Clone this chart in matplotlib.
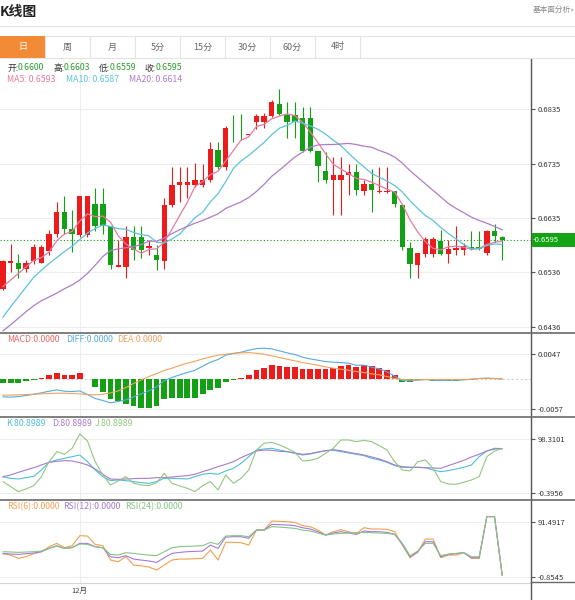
import numpy as np
import matplotlib.pyplot as plt
from matplotlib.patches import Rectangle
from matplotlib.lines import Line2D

plt.rcParams['font.family'] = ['Noto Sans CJK SC', 'DejaVu Sans']

# ---- data (daily candles, oldest first) ----
opens = [0.6506, 0.6553, 0.6554, 0.6542, 0.6556, 0.6554, 0.6575, 0.6606, 0.6647, 0.6615,
         0.6604, 0.6604, 0.6662, 0.6662, 0.6620, 0.6546, 0.6546, 0.6601, 0.6601, 0.6581,
         0.6567, 0.6557, 0.6659, 0.6696, 0.6696, 0.6695, 0.6695, 0.6705, 0.6760, 0.6729,
         0.6801, 0.6801, 0.6787, 0.6811, 0.6811, 0.6823, 0.6845, 0.6824, 0.6824, 0.6818,
         0.6818, 0.6758, 0.6722, 0.6705, 0.6705, 0.6714, 0.6719, 0.6685, 0.6698, 0.6683,
         0.6683, 0.6684, 0.6659, 0.6581, 0.6550, 0.6569, 0.6569, 0.6593, 0.6569, 0.6577,
         0.6576, 0.6583, 0.6583, 0.6571, 0.6611, 0.6600]
highs = [0.6559, 0.6587, 0.6569, 0.6559, 0.6587, 0.6586, 0.6614, 0.6665, 0.6675, 0.6650,
         0.6675, 0.6676, 0.6690, 0.6690, 0.6620, 0.6595, 0.6620, 0.6620, 0.6620, 0.6595,
         0.6586, 0.6672, 0.6728, 0.6728, 0.6728, 0.6736, 0.6734, 0.6774, 0.6774, 0.6803,
         0.6824, 0.6825, 0.6790, 0.6825, 0.6827, 0.6851, 0.6872, 0.6847, 0.6847, 0.6839,
         0.6839, 0.6758, 0.6757, 0.6748, 0.6748, 0.6734, 0.6734, 0.6705, 0.6726, 0.6729,
         0.6729, 0.6685, 0.6661, 0.6592, 0.6572, 0.6601, 0.6601, 0.6614, 0.6595, 0.6620,
         0.6589, 0.6611, 0.6611, 0.6614, 0.6624, 0.6603]
lows = [0.6504, 0.6537, 0.6525, 0.6537, 0.6551, 0.6553, 0.6568, 0.6601, 0.6607, 0.6574,
        0.6601, 0.6601, 0.6611, 0.6607, 0.6543, 0.6545, 0.6525, 0.6559, 0.6562, 0.6568,
        0.6540, 0.6543, 0.6656, 0.6665, 0.6672, 0.6693, 0.6693, 0.6702, 0.6726, 0.6723,
        0.6775, 0.6778, 0.6787, 0.6798, 0.6800, 0.6821, 0.6824, 0.6781, 0.6781, 0.6757,
        0.6757, 0.6702, 0.6699, 0.6641, 0.6641, 0.6678, 0.6678, 0.6678, 0.6647, 0.6681,
        0.6681, 0.6656, 0.6577, 0.6525, 0.6525, 0.6565, 0.6565, 0.6567, 0.6553, 0.6568,
        0.6568, 0.6577, 0.6577, 0.6568, 0.6592, 0.6559]
closes = [0.6556, 0.6556, 0.6542, 0.6554, 0.6582, 0.6582, 0.6606, 0.6647, 0.6615, 0.6606,
          0.6675, 0.6675, 0.6620, 0.6620, 0.6550, 0.6549, 0.6601, 0.6577, 0.6577, 0.6584,
          0.6559, 0.6659, 0.6696, 0.6702, 0.6702, 0.6705, 0.6705, 0.6762, 0.6729, 0.6801,
          0.6800, 0.6800, 0.6790, 0.6823, 0.6823, 0.6847, 0.6826, 0.6811, 0.6811, 0.6759,
          0.6759, 0.6731, 0.6705, 0.6714, 0.6714, 0.6719, 0.6687, 0.6698, 0.6687, 0.6685,
          0.6685, 0.6661, 0.6582, 0.6551, 0.6572, 0.6597, 0.6597, 0.6569, 0.6579, 0.6580,
          0.6584, 0.6579, 0.6579, 0.6611, 0.6603, 0.6595]

ma5 = [0.6510, 0.6522, 0.6534, 0.6546, 0.6558, 0.6563, 0.6573, 0.6594, 0.6606, 0.6611,
       0.6630, 0.6643, 0.6638, 0.6639, 0.6628, 0.6603, 0.6588, 0.6579, 0.6571, 0.6578,
       0.6579, 0.6591, 0.6615, 0.6640, 0.6664, 0.6693, 0.6702, 0.6715, 0.6721, 0.6740,
       0.6759, 0.6778, 0.6784, 0.6803, 0.6807, 0.6817, 0.6822, 0.6826, 0.6823, 0.6811,
       0.6793, 0.6774, 0.6753, 0.6734, 0.6725, 0.6717, 0.6708, 0.6706, 0.6701, 0.6695,
       0.6688, 0.6683, 0.6660, 0.6632, 0.6610, 0.6592, 0.6580, 0.6577, 0.6583, 0.6584,
       0.6582, 0.6578, 0.6580, 0.6587, 0.6591, 0.6593]
ma10 = [0.6454, 0.6473, 0.6491, 0.6509, 0.6527, 0.6540, 0.6552, 0.6563, 0.6574, 0.6584,
        0.6596, 0.6608, 0.6616, 0.6623, 0.6620, 0.6616, 0.6615, 0.6609, 0.6605, 0.6603,
        0.6591, 0.6590, 0.6597, 0.6606, 0.6621, 0.6636, 0.6646, 0.6665, 0.6680, 0.6702,
        0.6726, 0.6740, 0.6750, 0.6762, 0.6774, 0.6788, 0.6800, 0.6805, 0.6813, 0.6809,
        0.6804, 0.6798, 0.6789, 0.6778, 0.6768, 0.6754, 0.6741, 0.6729, 0.6717, 0.6710,
        0.6703, 0.6695, 0.6683, 0.6667, 0.6653, 0.6640, 0.6631, 0.6618, 0.6607, 0.6597,
        0.6587, 0.6579, 0.6579, 0.6585, 0.6588, 0.6587]
ma20 = [0.6429, 0.6440, 0.6452, 0.6464, 0.6475, 0.6484, 0.6491, 0.6498, 0.6506, 0.6513,
        0.6522, 0.6534, 0.6549, 0.6565, 0.6576, 0.6579, 0.6581, 0.6583, 0.6587, 0.6593,
        0.6593, 0.6599, 0.6607, 0.6614, 0.6620, 0.6626, 0.6631, 0.6637, 0.6643, 0.6653,
        0.6659, 0.6665, 0.6673, 0.6684, 0.6697, 0.6712, 0.6723, 0.6735, 0.6747, 0.6756,
        0.6765, 0.6769, 0.6770, 0.6770, 0.6771, 0.6772, 0.6770, 0.6767, 0.6765, 0.6759,
        0.6754, 0.6747, 0.6736, 0.6722, 0.6710, 0.6698, 0.6686, 0.6674, 0.6662, 0.6653,
        0.6645, 0.6637, 0.6631, 0.6626, 0.6620, 0.6614]

macd_hist = [-0.00063, -0.00076, -0.00063, -0.00038, -0.00006, 0.00032, 0.00082, 0.00126, 0.00076, 0.00076,
             0.00113, 0.0, -0.00139, -0.00239, -0.00378, -0.00410, -0.00473, -0.00504, -0.00536, -0.00548,
             -0.00504, -0.00378, -0.00359, -0.00359, -0.00359, -0.00347, -0.00284, -0.00202, -0.00170, -0.00044,
             -0.00019, 0.00019, 0.00082, 0.00170, 0.00221, 0.00265, 0.00252, 0.00239, 0.00233, 0.00202,
             0.00189, 0.00189, 0.00202, 0.00221, 0.00252, 0.00265, 0.00239, 0.00271, 0.00252, 0.00221,
             0.00176, 0.00082, -0.00044, -0.00044, -0.00019, -0.00006, -0.00032, -0.00038, -0.00032, -0.00032,
             -0.00013, -0.00006, 0.0, 0.00003, 0.00003, 0.0]
diff = [-0.00334, -0.00340, -0.00328, -0.00309, -0.00284, -0.00258, -0.00227, -0.00202, -0.00227, -0.00233,
        -0.00221, -0.00290, -0.00365, -0.00403, -0.00447, -0.00422, -0.00391, -0.00334, -0.00277, -0.00221,
        -0.00145, -0.00025, 0.00032, 0.00082, 0.00126, 0.00170, 0.00246, 0.00321, 0.00372, 0.00454,
        0.00485, 0.00510, 0.00548, 0.00580, 0.00586, 0.00573, 0.00536, 0.00498, 0.00466, 0.00416,
        0.00384, 0.00359, 0.00334, 0.00321, 0.00315, 0.00302, 0.00265, 0.00265, 0.00227, 0.00195,
        0.00139, 0.00057, -0.00025, -0.00032, -0.00019, -0.00006, -0.00019, -0.00025, -0.00019, -0.00019,
        -0.00013, 0.0, 0.00013, 0.00019, 0.00013, 0.00006]
dea = [-0.00302, -0.00302, -0.00296, -0.00290, -0.00284, -0.00277, -0.00271, -0.00265, -0.00265, -0.00271,
       -0.00277, -0.00290, -0.00296, -0.00284, -0.00258, -0.00221, -0.00158, -0.00082, -0.00013, 0.00050,
       0.00107, 0.00164, 0.00208, 0.00258, 0.00302, 0.00340, 0.00384, 0.00422, 0.00454, 0.00473,
       0.00491, 0.00498, 0.00504, 0.00491, 0.00473, 0.00441, 0.00410, 0.00378, 0.00347, 0.00315,
       0.00290, 0.00265, 0.00233, 0.00208, 0.00189, 0.00170, 0.00145, 0.00126, 0.00101, 0.00082,
       0.00050, 0.00013, -0.00006, -0.00013, -0.00013, -0.00006, -0.00006, -0.00006, -0.00006, -0.00006,
       -0.00006, 0.0, 0.00013, 0.00019, 0.00013, 0.00006]

k_line = [29.3, 26.8, 25.6, 28.1, 30.5, 42.0, 55.9, 60.2, 63.2, 66.2,
          69.2, 57.1, 42.0, 29.9, 22.6, 23.8, 22.6, 20.8, 19.0, 17.8,
          20.8, 26.8, 26.8, 26.2, 25.6, 29.9, 34.1, 35.9, 34.1, 40.2,
          45.0, 54.1, 66.2, 78.3, 80.1, 81.4, 78.3, 75.3, 72.3, 69.2,
          71.1, 74.1, 77.1, 77.7, 75.3, 72.9, 70.5, 68.0, 63.2, 60.2,
          55.9, 49.9, 46.8, 46.8, 46.8, 46.2, 42.0, 39.0, 40.8, 43.8,
          46.8, 51.1, 66.2, 76.5, 81.4, 80.8989]
d_line = [29.9, 32.9, 37.7, 42.0, 46.2, 51.1, 55.9, 57.7, 59.0, 58.3,
          55.3, 51.1, 43.8, 34.1, 25.6, 25.0, 25.6, 26.2, 26.8, 26.8,
          28.1, 28.1, 29.3, 30.5, 31.7, 34.1, 39.0, 43.2, 48.0, 52.3,
          57.1, 64.4, 70.5, 76.5, 78.3, 77.7, 75.9, 75.3, 72.9, 70.5,
          71.7, 74.7, 77.1, 78.9, 77.1, 74.1, 71.7, 69.2, 65.6, 62.0,
          57.1, 51.1, 48.0, 46.8, 46.8, 46.2, 45.6, 45.0, 49.9, 54.7,
          59.6, 65.6, 70.5, 76.5, 80.1, 80.8989]
j_line = [20.8, 11.7, 2.6, 7.5, 13.5, 29.9, 57.1, 75.3, 70.5, 81.4,
          107.4, 94.7, 57.1, 32.9, 14.7, 22.0, 29.9, 17.8, 14.7, 13.5,
          19.0, 35.9, 17.8, 12.9, 8.7, 2.6, 13.5, 20.8, 5.7, 32.9,
          17.8, 26.8, 42.0, 78.3, 90.4, 92.3, 87.4, 81.4, 74.1, 58.3,
          59.6, 63.2, 72.3, 81.4, 96.5, 96.5, 93.5, 95.9, 93.5, 86.2,
          78.3, 57.1, 42.0, 40.2, 57.1, 60.2, 45.0, 20.8, 16.6, 16.0,
          19.6, 23.8, 29.9, 66.2, 76.5, 80.8989]

rsi6 = [37.8, 35.5, 29.9, 32.7, 37.8, 41.1, 49.5, 55.1, 47.8, 51.2,
        68.0, 67.4, 53.4, 51.2, 27.1, 24.3, 32.7, 18.7, 17.6, 15.4,
        10.3, 18.7, 27.1, 28.8, 28.8, 29.4, 29.9, 43.9, 27.1, 56.8,
        56.8, 56.2, 52.3, 77.5, 77.5, 92.6, 92.0, 91.5, 90.4, 84.8,
        83.1, 77.5, 69.1, 74.7, 78.1, 74.7, 71.3, 81.4, 79.2, 79.2,
        78.6, 74.7, 52.3, 31.0, 40.0, 62.4, 62.4, 31.0, 35.5, 35.5,
        39.5, 29.9, 29.9, 100.0, 100.0, 1.9]
rsi12 = [38.3, 37.2, 36.6, 37.8, 38.9, 41.1, 46.7, 50.6, 46.7, 47.8,
         55.1, 55.1, 49.5, 47.8, 32.7, 31.0, 34.4, 28.8, 27.1, 25.5,
         23.2, 31.0, 38.3, 40.0, 41.1, 41.7, 42.2, 52.3, 46.7, 65.7,
         66.3, 66.3, 63.5, 77.5, 77.5, 87.0, 86.5, 85.9, 84.8, 81.4,
         79.2, 74.7, 69.1, 72.5, 74.7, 72.5, 70.2, 75.8, 74.7, 74.7,
         73.6, 70.2, 53.4, 32.7, 41.1, 57.9, 57.9, 32.7, 36.6, 37.8,
         39.5, 31.0, 31.0, 100.0, 100.0, 1.9]
rsi24 = [41.1, 40.6, 40.0, 40.6, 41.1, 42.2, 46.7, 51.2, 46.7, 48.4,
         54.0, 53.4, 49.5, 47.8, 36.6, 35.5, 39.5, 38.3, 36.6, 35.5,
         34.4, 41.1, 47.8, 49.5, 50.1, 50.6, 51.2, 56.8, 53.4, 67.4,
         68.0, 68.0, 66.3, 77.5, 77.5, 83.1, 82.5, 81.4, 80.3, 77.5,
         75.8, 72.5, 69.1, 70.8, 71.9, 72.5, 73.0, 73.6, 73.0, 72.5,
         71.9, 70.2, 55.1, 34.4, 42.2, 55.1, 55.1, 34.4, 37.2, 38.3,
         39.5, 32.7, 32.7, 100.0, 100.0, 1.9]

price_ticks = [0.6436, 0.6536, 0.6635, 0.6735, 0.6835]
macd_ticks = [-0.0057, 0.0047]
kdj_ticks = [-0.3956, 98.3101]
rsi_ticks = [-0.8545, 91.4917]
month_pos = 10
month_label = '12月'
tabs = ['日', '周', '月', '5分', '15分', '30分', '60分', '4时']

# ---- colours ----
RED = '#ec1c1c'
GREEN = '#14a014'
C_MA5 = '#e57ba3'
C_MA10 = '#5cc3dc'
C_MA20 = '#b07cc8'
C_DIFF = '#58a9e0'
C_DEA = '#f0a35e'
C_MACD = '#e26a6a'
C_K = '#4fbfd8'
C_D = '#a77cc9'
C_J = '#93c77f'
C_R6 = '#f0a050'
C_R12 = '#a47ad6'
C_R24 = '#86c486'
GRID = '#ededed'
AXC = '#555555'

W, H = 575, 600
fig = plt.figure(figsize=(W / 100, H / 100), dpi=100)


def fx(x):
    return x / W


def fy(y):
    return 1 - y / H


def panel(top, bottom):
    return fig.add_axes([0, fy(bottom), fx(531), (bottom - top) / H])


n = len(closes)
x = np.arange(n)
XLIM = (-0.39, 68.75)

ax = panel(59, 333)
ax_macd = panel(333, 417)
ax_kdj = panel(417, 500)
ax_rsi = panel(500, 583)

for a, ticks in [(ax, price_ticks), (ax_macd, macd_ticks),
                 (ax_kdj, kdj_ticks), (ax_rsi, rsi_ticks)]:
    a.set_xlim(*XLIM)
    for s in ['top', 'left', 'bottom']:
        a.spines[s].set_visible(False)
    a.spines['right'].set_color(AXC)
    a.spines['right'].set_linewidth(1.0)
    a.yaxis.tick_right()
    a.set_yticks(ticks)
    a.set_yticklabels([f'{t:.4f}' for t in ticks])
    a.tick_params(axis='y', direction='out', length=3, width=0.8, color=AXC,
                  labelsize=5.5, labelcolor='#333333', pad=1.5)
    a.tick_params(axis='x', length=0, labelbottom=False)
    a.yaxis.grid(True, color=GRID, lw=0.8)
    a.axvline(month_pos, color=GRID, lw=0.8, zorder=0)
    a.set_axisbelow(True)

# ---- main candlestick panel ----
o = np.array(opens)
c = np.array(closes)
up = c >= o
cols = np.where(up, RED, GREEN)
ax.vlines(x, lows, highs, colors=cols, lw=0.8, zorder=2)
ax.bar(x, np.maximum(np.abs(c - o), 0.00004), bottom=np.minimum(o, c), width=0.7,
       color=cols, lw=0, zorder=3)
ax.plot(x, ma5, color=C_MA5, lw=0.9, zorder=4)
ax.plot(x, ma10, color=C_MA10, lw=0.9, zorder=4)
ax.plot(x, ma20, color=C_MA20, lw=0.9, zorder=4)
ax.axhline(closes[-1], color=GREEN, lw=0.8, ls=(0, (1, 2)), zorder=1)
ax.set_ylim(0.6425, 0.69265)

# ---- MACD ----
ax_macd.axhline(0, color='#cfcfcf', lw=0.8, ls=(0, (2, 2)), zorder=0)
hist = np.array(macd_hist)
ax_macd.bar(x, hist, width=0.75, color=np.where(hist >= 0, RED, GREEN), lw=0, zorder=2)
ax_macd.plot(x, diff, color=C_DIFF, lw=0.8, zorder=3)
ax_macd.plot(x, dea, color=C_DEA, lw=0.8, zorder=3)
ax_macd.set_ylim(-0.00715, 0.00874)

# ---- KDJ ----
ax_kdj.plot(x, k_line, color=C_K, lw=0.8)
ax_kdj.plot(x, d_line, color=C_D, lw=0.8)
ax_kdj.plot(x, j_line, color=C_J, lw=0.8)
ax_kdj.set_ylim(-12.6, 138.3)

# ---- RSI ----
ax_rsi.plot(x, rsi6, color=C_R6, lw=0.8)
ax_rsi.plot(x, rsi12, color=C_R12, lw=0.8)
ax_rsi.plot(x, rsi24, color=C_R24, lw=0.8)
ax_rsi.set_ylim(-11.4, 127.9)
ax_rsi.spines['bottom'].set_visible(True)
ax_rsi.spines['bottom'].set_color('#d6d6d6')
ax_rsi.set_xticks([month_pos])
ax_rsi.set_xticklabels([month_label])
ax_rsi.tick_params(axis='x', length=0, labelbottom=True, labelsize=5.5,
                   labelcolor='#444444', pad=3)

# ---- frame lines ----
for yy in [333, 417, 500]:
    fig.add_artist(Line2D([0, 1], [fy(yy), fy(yy)], color='#6a6a6a', lw=1.2))
fig.add_artist(Line2D([fx(531), 1], [fy(582), fy(582)], color='#6a6a6a', lw=1.0))
fig.add_artist(Line2D([fx(531), fx(531)], [fy(583), 0], color=AXC, lw=1.0))
fig.add_artist(Line2D([0, 1], [fy(26), fy(26)], color='#e0e0e0', lw=0.8))

# ---- header ----
fig.text(fx(0), fy(12), 'K线图', fontsize=10, fontweight='bold', color='#222222',
         va='center', ha='left')
fig.text(fx(533), fy(10), '基本面分析»', fontsize=5.5, color='#8a8a8a', va='center', ha='left')

fig.add_artist(Rectangle((0, fy(58)), 1, (58 - 36) / H, transform=fig.transFigure,
                         facecolor='white', edgecolor='#e3e3e3', lw=0.8))
for k, t in enumerate(tabs):
    x0 = 45 * k
    if k == 0:
        fig.add_artist(Rectangle((fx(x0), fy(58)), fx(45), (58 - 36) / H,
                                 transform=fig.transFigure, facecolor='#f28a36', lw=0))
    fig.add_artist(Line2D([fx(x0 + 45), fx(x0 + 45)], [fy(36), fy(58)], color='#e3e3e3', lw=0.8))
    fig.text(fx(x0 + 22.5), fy(47), t, fontsize=6.5, ha='center', va='center',
             color='white' if k == 0 else '#666666')

# ---- legends ----
y1, y2 = 68, 80
ohlc_names = ['开:', '高:', '低:', '收:']
ohlc_vals = [opens[-1], highs[-1], lows[-1], closes[-1]]
name_x = [7, 53, 99, 144]
val_x = [18, 64, 110, 156]
for nm, v, xn, xv in zip(ohlc_names, ohlc_vals, name_x, val_x):
    fig.text(fx(xn), fy(y1), nm, fontsize=6.3, color='#333333', va='center')
    fig.text(fx(xv), fy(y1), f'{v:.4f}', fontsize=6.3, color='#2f9e2f', va='center')

for txt, xx, col in [(f'MA5: {ma5[-1]:.4f}', 7, C_MA5), (f'MA10: {ma10[-1]:.4f}', 66, C_MA10),
                     (f'MA20: {ma20[-1]:.4f}', 129, C_MA20)]:
    fig.text(fx(xx), fy(y2), txt, fontsize=6.3, color=col, va='center')

for txt, xx, col in [('MACD:0.0000', 7, C_MACD), ('DIFF:0.0000', 66, C_DIFF),
                     ('DEA:0.0000', 117, C_DEA)]:
    fig.text(fx(xx), fy(340), txt, fontsize=6.3, color=col, va='center')

for txt, xx, col in [(f'K:{k_line[-1]:.4f}', 6, C_K), (f'D:{d_line[-1]:.4f}', 52, C_D),
                     (f'J:{j_line[-1]:.4f}', 95, C_J)]:
    fig.text(fx(xx), fy(423), txt, fontsize=6.3, color=col, va='center')

for txt, xx, col in [('RSI(6):0.0000', 7, C_R6), ('RSI(12):0.0000', 63, C_R12),
                     ('RSI(24):0.0000', 125, C_R24)]:
    fig.text(fx(xx), fy(507), txt, fontsize=6.3, color=col, va='center')

# ---- last price tag ----
fig.add_artist(Rectangle((fx(532), fy(247)), 1 - fx(532), 14 / H, transform=fig.transFigure,
                         facecolor='#13a313', lw=0))
fig.text(fx(533), fy(240), f'-{closes[-1]:.4f}', fontsize=5.5, color='white', va='center')

fig.savefig('out.png', dpi=100)
